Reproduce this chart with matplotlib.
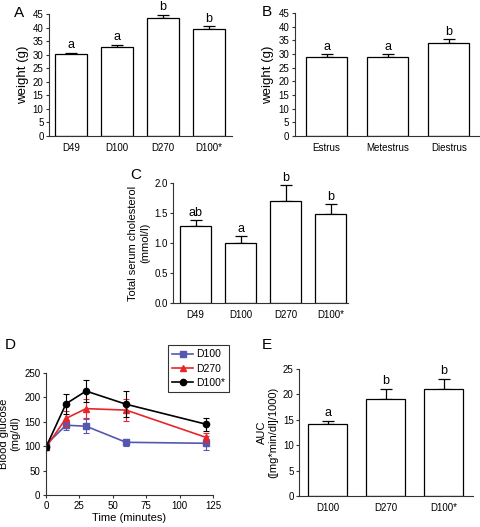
import matplotlib
matplotlib.use('Agg')
import matplotlib.pyplot as plt
import numpy as np

plt.rcParams['font.family'] = ['Liberation Sans', 'DejaVu Sans']

# panel A: body weight by age
a_cats = ['D49', 'D100', 'D270', 'D100*']
a_vals = [30.2, 33.0, 43.5, 39.6]
a_errs = [0.6, 0.8, 1.3, 0.9]
a_lets = ['a', 'a', 'b', 'b']

# panel B: weight by cycle stage
b_cats = ['Estrus', 'Metestrus', 'Diestrus']
b_vals = [29.0, 29.0, 34.0]
b_errs = [0.9, 0.9, 1.5]
b_lets = ['a', 'a', 'b']

# panel C: cholesterol
c_cats = ['D49', 'D100', 'D270', 'D100*']
c_vals = [1.28, 1.00, 1.70, 1.48]
c_errs = [0.10, 0.12, 0.26, 0.16]
c_lets = ['ab', 'a', 'b', 'b']

# panel D: glucose tolerance
d_time = [0, 15, 30, 60, 120]
d_d100 = [103, 143, 141, 108, 106]
d_d100_err = [5, 10, 14, 7, 14]
d_d270 = [98, 157, 177, 174, 118]
d_d270_err = [5, 16, 20, 22, 10]
d_d100s = [98, 187, 213, 186, 145]
d_d100s_err = [5, 21, 22, 27, 13]

# panel E: AUC
e_cats = ['D100', 'D270', 'D100*']
e_vals = [14.1, 19.0, 21.0]
e_errs = [0.7, 2.1, 2.1]
e_lets = ['a', 'b', 'b']

TICK = 7
LAB = 8


def style(ax):
    for s in ['top', 'right']:
        ax.spines[s].set_visible(False)
    for s in ['left', 'bottom']:
        ax.spines[s].set_linewidth(0.8)
        ax.spines[s].set_color('#333333')
    ax.tick_params(labelsize=TICK, length=2.5, width=0.8, pad=1.5, colors='#333333')
    ax.tick_params(axis='both', labelcolor='black')


def bars(ax, cats, vals, errs, lets, width, xlim, ylim, yticks, ylabel, off,
         fmt=None, labsize=LAB):
    x = np.arange(len(cats))
    ax.bar(x, vals, width=width, color='white', edgecolor='black', linewidth=0.9, zorder=2)
    ax.errorbar(x, vals, yerr=[np.zeros(len(x)), errs], fmt='none', ecolor='black',
                elinewidth=0.9, capsize=4.2, capthick=0.9, zorder=1)
    for xi, v, e, l in zip(x, vals, errs, lets):
        ax.text(xi, v + e + off, l, ha='center', va='bottom', fontsize=9)
    ax.set_xlim(*xlim)
    ax.set_ylim(*ylim)
    ax.set_yticks(yticks)
    if fmt:
        ax.set_yticklabels([fmt % t for t in yticks])
    ax.set_xticks(x)
    ax.set_xticklabels(cats)
    style(ax)
    ax.tick_params(axis='x', length=0, pad=5)
    ax.set_ylabel(ylabel, fontsize=labsize, labelpad=3)


fig = plt.figure(figsize=(4.81, 5.27), dpi=100)

axA = fig.add_axes([0.102, 0.742, 0.38, 0.231])
bars(axA, a_cats, a_vals, a_errs, a_lets, 0.7, (-0.48, 3.5), (0, 45),
     np.arange(0, 46, 5), 'weight (g)', 0.5, labsize=9.5)
fig.text(0.03, 0.975, 'A', fontsize=11, va='center')

axB = fig.add_axes([0.613, 0.742, 0.385, 0.233])
bars(axB, b_cats, b_vals, b_errs, b_lets, 0.67, (-0.52, 2.51), (0, 45),
     np.arange(0, 46, 5), 'weight (g)', 0.5, labsize=9.5)
fig.text(0.545, 0.977, 'B', fontsize=11, va='center')

axC = fig.add_axes([0.360, 0.425, 0.364, 0.228])
bars(axC, c_cats, c_vals, c_errs, c_lets, 0.69, (-0.5, 3.39), (0, 2.0),
     np.arange(0, 2.01, 0.5), 'Total serum cholesterol\n(mmol/l)', 0.02, fmt='%.1f')
fig.text(0.27, 0.668, 'C', fontsize=11, va='center')

axD = fig.add_axes([0.0956, 0.0607, 0.347, 0.2315])
series = [
    (d_d100, d_d100_err, '#5558b0', 's', 'D100'),
    (d_d270, d_d270_err, '#e8262a', '^', 'D270'),
    (d_d100s, d_d100s_err, 'black', 'o', 'D100*'),
]
for vals, errs, col, mk, lab in series:
    axD.errorbar(d_time, vals, yerr=errs, color=col, fmt='none',
                 elinewidth=0.8, capsize=2.5, capthick=0.8)
    axD.plot(d_time, vals, color=col, marker=mk, ms=4.5, lw=1.2, label=lab)
axD.set_xlim(0, 125)
axD.set_ylim(0, 250)
axD.set_xticks(np.arange(0, 126, 25))
axD.set_yticks(np.arange(0, 251, 50))
style(axD)
axD.set_xlabel('Time (minutes)', fontsize=LAB, labelpad=2)
axD.set_ylabel('Blood glucose\n(mg/dl)', fontsize=LAB, labelpad=3)
leg = axD.legend(loc='upper left', bbox_to_anchor=(0.70, 1.27), fontsize=7.5,
                 frameon=True, fancybox=False, edgecolor='black', handlelength=2.0,
                 handletextpad=0.3, borderpad=0.4, labelspacing=0.4)
leg.get_frame().set_linewidth(0.8)
fig.text(0.01, 0.345, 'D', fontsize=11, va='center')

axE = fig.add_axes([0.622, 0.0588, 0.362, 0.241])
bars(axE, e_cats, e_vals, e_errs, e_lets, 0.67, (-0.49, 2.51), (0, 25),
     np.arange(0, 26, 5), 'AUC\n([mg*min/dl]/1000)', 0.3)
fig.text(0.545, 0.345, 'E', fontsize=11, va='center')

plt.savefig('out.png', dpi=100)
